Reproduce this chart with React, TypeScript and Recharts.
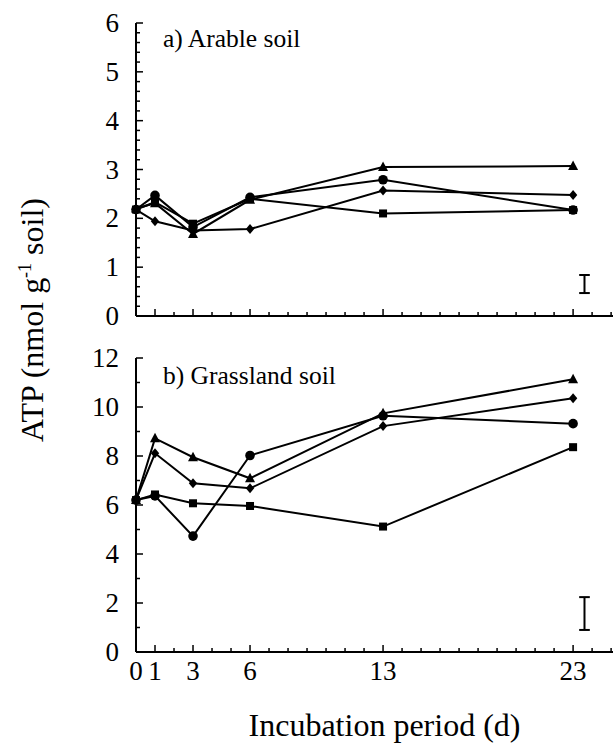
import React from 'react';
import { LineChart, Line, XAxis, YAxis, ReferenceLine } from 'recharts';

// incubation days sampled
const days = [0, 1, 3, 6, 13, 23];

// a) arable soil, ATP (nmol g-1 soil)
const arableTriangle = [2.2, 2.31, 1.68, 2.38, 3.05, 3.07];
const arableCircle = [2.18, 2.47, 1.82, 2.43, 2.79, 2.17];
const arableDiamond = [2.18, 1.94, 1.75, 1.78, 2.57, 2.48];
const arableSquare = [2.18, 2.33, 1.89, 2.4, 2.1, 2.17];

// b) grassland soil
const grassTriangle = [6.2, 8.72, 7.95, 7.09, 9.74, 11.13];
const grassCircle = [6.2, 6.37, 4.73, 8.02, 9.64, 9.32];
const grassDiamond = [6.2, 8.11, 6.89, 6.68, 9.22, 10.36];
const grassSquare = [6.2, 6.43, 6.07, 5.96, 5.12, 8.36];

// LSD bars drawn at the right of each panel
const lsdDay = 23.6;
const arableLsd = [0.47, 0.84];
const grassLsd = [0.9, 2.24];

const xLabels = [0, 1, 3, 6, 13, 23];
const arableYLabels = [0, 1, 2, 3, 4, 5, 6];
const grassYLabels = [0, 2, 4, 6, 8, 10, 12];

// minor tick positions (every day / every 0.2 / every 1)
const xTicks = Array.from({ length: 26 }, (_, i) => i);
const arableYTicks = Array.from({ length: 31 }, (_, i) => Math.round(i * 2) / 10);
const grassYTicks = Array.from({ length: 13 }, (_, i) => i);

const FONT = '"Liberation Serif", "Times New Roman", Times, serif';

const build = (tri: number[], cir: number[], dia: number[], sq: number[]) =>
  days.map((d, i) => ({ day: d, tri: tri[i], cir: cir[i], dia: dia[i], sq: sq[i] }));

const arableData = build(arableTriangle, arableCircle, arableDiamond, arableSquare);
const grassData = build(grassTriangle, grassCircle, grassDiamond, grassSquare);

const isIn = (list: number[], v: number) => list.some(l => Math.abs(l - v) < 1e-6);

function ArableYTick(props: any) {
  return <YTick {...props} labels={arableYLabels} />;
}
function GrassYTick(props: any) {
  return <YTick {...props} labels={grassYLabels} />;
}

function YTick({ x, y, payload, labels }: any) {
  const major = isIn(labels, payload.value);
  return (
    <g>
      <line x1={x} x2={x + (major ? 7 : 4)} y1={y} y2={y} stroke="#000" strokeWidth={1.5} />
      {major && (
        <text x={x - 17} y={y + 9} textAnchor="end" fill="#000" fontSize={27} fontFamily={FONT}>
          {payload.value}
        </text>
      )}
    </g>
  );
}

function XTickPlain({ x, y, payload }: any) {
  const major = isIn(xLabels, payload.value);
  return <line x1={x} x2={x} y1={y} y2={y - (major ? 7 : 4)} stroke="#000" strokeWidth={1.5} />;
}

function XTickLabelled({ x, y, payload }: any) {
  const major = isIn(xLabels, payload.value);
  return (
    <g>
      <line x1={x} x2={x} y1={y} y2={y - (major ? 7 : 4)} stroke="#000" strokeWidth={1.5} />
      {major && (
        <text x={x} y={y + 28} textAnchor="middle" fill="#000" fontSize={27} fontFamily={FONT}>
          {payload.value}
        </text>
      )}
    </g>
  );
}

const marker = (kind: string) => (props: any) => {
  const { cx, cy, index } = props;
  const key = `${kind}-${index}`;
  if (cx == null || cy == null) return <g key={key} />;
  if (kind === 'cir') return <circle key={key} cx={cx} cy={cy} r={4.8} fill="#000" />;
  if (kind === 'sq') return <rect key={key} x={cx - 4} y={cy - 4} width={8} height={8} fill="#000" />;
  if (kind === 'tri')
    return <polygon key={key} points={`${cx},${cy - 5.5} ${cx + 5},${cy + 4} ${cx - 5},${cy + 4}`} fill="#000" />;
  return <polygon key={key} points={`${cx},${cy - 5} ${cx + 4.2},${cy} ${cx},${cy + 5} ${cx - 4.2},${cy}`} fill="#000" />;
};

const seriesKeys = ['sq', 'dia', 'tri', 'cir'];

function Panel({ data, yMax, yTicks, yTick, xTick, lsd, showTitle, height, marginTop, xHeight }: any) {
  const cap = 0.28;
  return (
    <LineChart width={613} height={height} data={data} margin={{ top: marginTop, right: 0, bottom: 0, left: 0 }}>
      <XAxis
        dataKey="day"
        type="number"
        domain={[0, 25.1]}
        ticks={xTicks}
        interval={0}
        tickSize={0}
        tickMargin={0}
        tickLine={false}
        tick={xTick}
        height={xHeight}
        axisLine={{ stroke: '#000', strokeWidth: 2 }}
        label={
          showTitle
            ? { value: 'Incubation period (d)', position: 'insideBottom', offset: 11, dx: 10, fontSize: 32, fontFamily: FONT, fill: '#000' }
            : undefined
        }
      />
      <YAxis
        type="number"
        domain={[0, yMax]}
        ticks={yTicks}
        interval={0}
        tickSize={0}
        tickMargin={0}
        tickLine={false}
        tick={yTick}
        width={136}
        axisLine={{ stroke: '#000', strokeWidth: 2 }}
      />
      {seriesKeys.map(k => (
        <Line
          key={k}
          dataKey={k}
          stroke="#000"
          strokeWidth={2}
          dot={marker(k)}
          activeDot={false}
          isAnimationActive={false}
        />
      ))}
      <ReferenceLine segment={[{ x: lsdDay, y: lsd[0] }, { x: lsdDay, y: lsd[1] }]} stroke="#000" strokeWidth={2} />
      <ReferenceLine segment={[{ x: lsdDay - cap, y: lsd[0] }, { x: lsdDay + cap, y: lsd[0] }]} stroke="#000" strokeWidth={2} />
      <ReferenceLine segment={[{ x: lsdDay - cap, y: lsd[1] }, { x: lsdDay + cap, y: lsd[1] }]} stroke="#000" strokeWidth={2} />
    </LineChart>
  );
}

export default function App() {
  return (
    <div style={{ position: 'absolute', left: 0, top: 0, width: 613, height: 747, background: '#fff' }}>
      <div style={{ position: 'absolute', left: 0, top: 0 }}>
        <Panel data={arableData} yMax={6} yTicks={arableYTicks} yTick={ArableYTick} xTick={XTickPlain} lsd={arableLsd}
          showTitle={false} height={330} marginTop={23} xHeight={14} />
      </div>
      <div style={{ position: 'absolute', left: 0, top: 330 }}>
        <Panel data={grassData} yMax={12} yTicks={grassYTicks} yTick={GrassYTick} xTick={XTickLabelled} lsd={grassLsd}
          showTitle={true} height={417} marginTop={28} xHeight={95} />
      </div>
      <svg width={613} height={747} style={{ position: 'absolute', left: 0, top: 0, pointerEvents: 'none' }}>
        <text x={163} y={47} fontSize={25.5} fontFamily={FONT} fill="#000">a) Arable soil</text>
        <text x={163} y={384} fontSize={25.5} fontFamily={FONT} fill="#000">b) Grassland soil</text>
        <text x={33} y={320} transform="rotate(-90, 33, 320)" textAnchor="middle" dy={10}
          fontSize={32} fontFamily={FONT} fill="#000">
          ATP (nmol g<tspan dy={-12} fontSize={18}>-1</tspan><tspan dy={12}> soil)</tspan>
        </text>
      </svg>
    </div>
  );
}
